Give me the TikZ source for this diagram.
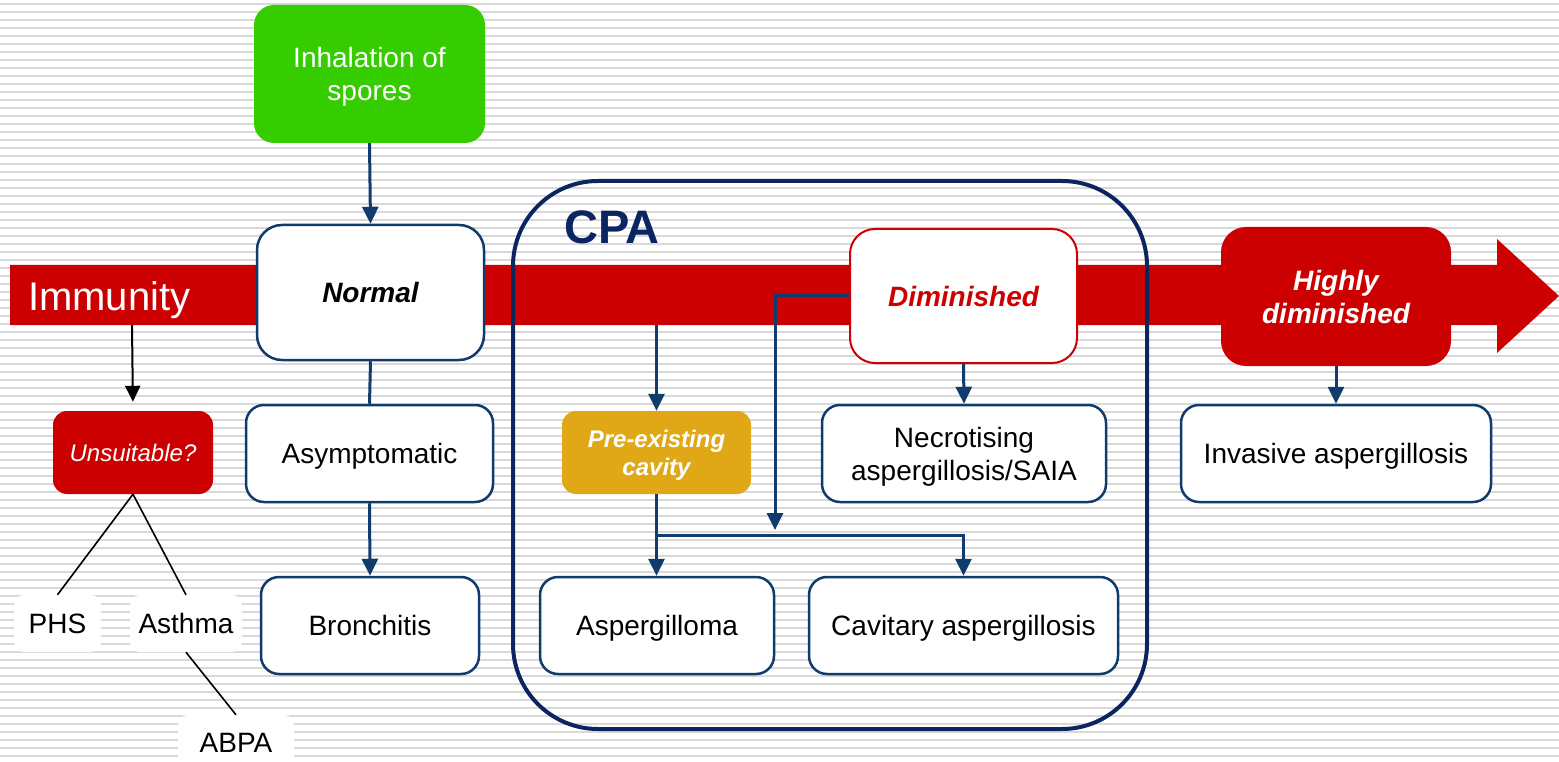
\documentclass[tikz,border=0pt]{standalone}
\usepackage{fontspec}
\setmainfont{Liberation Sans}
\usetikzlibrary{arrows.meta}
\definecolor{bandred}{HTML}{CC0000}
\definecolor{sporegreen}{HTML}{35CC00}
\definecolor{cavgold}{HTML}{E0A817}
\definecolor{navyline}{HTML}{0F3C6D}
\definecolor{cpanavy}{HTML}{0B2561}
\definecolor{stripegray}{HTML}{D9D9D9}
\begin{document}
\begin{tikzpicture}[x=1pt,y=-1pt,
  stripe/.style={stripegray,line width=1.8pt},
  outcome/.style={draw=navyline,line width=2.5pt,fill=white,rounded corners=18pt,align=center,
    font=\fontsize{28}{33}\selectfont,inner sep=0pt,text depth=0pt},
  redbox/.style={fill=bandred,text=white,align=center,inner sep=0pt,text depth=0pt},
  plainlabel/.style={fill=white,rounded corners=10pt,inner sep=0pt,text depth=0pt,font=\fontsize{28}{33}\selectfont},
  navyarr/.style={navyline,line width=3pt,-{Triangle[length=17pt,width=16pt]}},
  navyplain/.style={navyline,line width=3pt},
  blackarr/.style={black,line width=2pt,-{Triangle[length=16pt,width=15pt]}},
  blackline/.style={black,line width=1.6pt}
]
\useasboundingbox (0,0) rectangle (1559,762);
% background stripes
\foreach \k in {0,...,95} {\draw[stripe] (0,3.7+8*\k) -- (1559,3.7+8*\k);}
% immunity band
\fill[bandred] (10,265) -- (1497,265) -- (1497,239) -- (1559,296) -- (1497,353) -- (1497,325) -- (10,325) -- cycle;
\node[anchor=base west,text=white,inner sep=0pt,font=\fontsize{40}{45}\selectfont] (immlabel) at (28,310) {Immunity};
% CPA frame
\draw[cpanavy,line width=4pt,rounded corners=85pt] (513,181) rectangle (1147,729);
\node[text=cpanavy,font=\fontsize{47}{52}\selectfont\bfseries,inner sep=0pt,text depth=0pt] (cpalabel) at (612,227) {CPA};
% nodes
\node[fill=sporegreen,text=white,rounded corners=20pt,align=center,inner sep=0pt,text depth=0pt,
  minimum width=231,minimum height=138,font=\fontsize{28}{33}\selectfont] (spores) at (369.5,74) {Inhalation of\\spores};
\node[outcome,rounded corners=25pt,minimum width=227,minimum height=135,font=\fontsize{28}{33}\selectfont\bfseries\itshape] (normal) at (370.5,292.5) {Normal};
\node[outcome,minimum width=247,minimum height=97] (asym) at (369.5,453.5) {Asymptomatic};
\node[outcome,minimum width=218,minimum height=97] (bron) at (370,625.5) {Bronchitis};
\node[redbox,rounded corners=14pt,minimum width=160,minimum height=83,font=\fontsize{24}{28}\selectfont\itshape] (unsuit) at (133,452.5) {Unsuitable?};
\node[plainlabel,minimum width=87,minimum height=57] (phs) at (57.5,623.5) {PHS};
\node[plainlabel,minimum width=112,minimum height=57] (asthma) at (186,623.5) {Asthma};
\node[plainlabel,minimum width=116,minimum height=55] (abpa) at (236,742.5) {ABPA};
\node[outcome,draw=bandred,line width=2pt,rounded corners=25pt,minimum width=227,minimum height=134,
  text=bandred,font=\fontsize{28}{33}\selectfont\bfseries\itshape] (dimin) at (963.5,296) {Diminished};
\node[fill=cavgold,text=white,rounded corners=14pt,align=center,inner sep=0pt,text depth=0pt,minimum width=189,minimum height=83,
  font=\fontsize{24}{28}\selectfont\bfseries\itshape] (pre) at (656.5,452.5) {Pre-existing\\cavity};
\node[outcome,minimum width=284,minimum height=97] (necro) at (964,453.5) {Necrotising\\aspergillosis/SAIA};
\node[outcome,minimum width=234,minimum height=97] (asp) at (657,625.5) {Aspergilloma};
\node[outcome,minimum width=309,minimum height=97] (cav) at (963.5,625.5) {Cavitary aspergillosis};
\node[redbox,rounded corners=25pt,minimum width=230,minimum height=139,font=\fontsize{28}{33}\selectfont\bfseries\itshape] (high) at (1336,296.5) {Highly\\diminished};
\node[outcome,minimum width=310,minimum height=97] (inv) at (1336,453.5) {Invasive aspergillosis};
% connectors
\coordinate (immdrop) at (132,325);
\coordinate (cpadrop) at (656.5,325);
\coordinate (junc) at (657,535);
\coordinate (dimdrop) at (775,530);
\draw[navyarr] (spores.south) -- (normal.north);
\draw[navyplain] (normal.south) -- (asym.north);
\draw[navyarr] (asym.south) -- (bron.north);
\draw[blackarr,shorten >=9pt] (immdrop) -- (unsuit.north);
\draw[blackline] (unsuit.south) -- (phs.north);
\draw[blackline] (unsuit.south) -- (asthma.north);
\draw[blackline] (asthma.south) -- (abpa.north);
\draw[navyarr] (cpadrop) -- (pre.north);
\draw[navyarr] (pre.south) -- (pre.south |- asp.north);
\draw[navyarr] (pre.south |- junc) -| (cav.north);
\draw[navyarr] (dimin.west) -| (dimdrop);
\draw[navyarr] (dimin.south) -- (necro.north);
\draw[navyarr] (high.south) -- (inv.north);
\end{tikzpicture}
\end{document}
